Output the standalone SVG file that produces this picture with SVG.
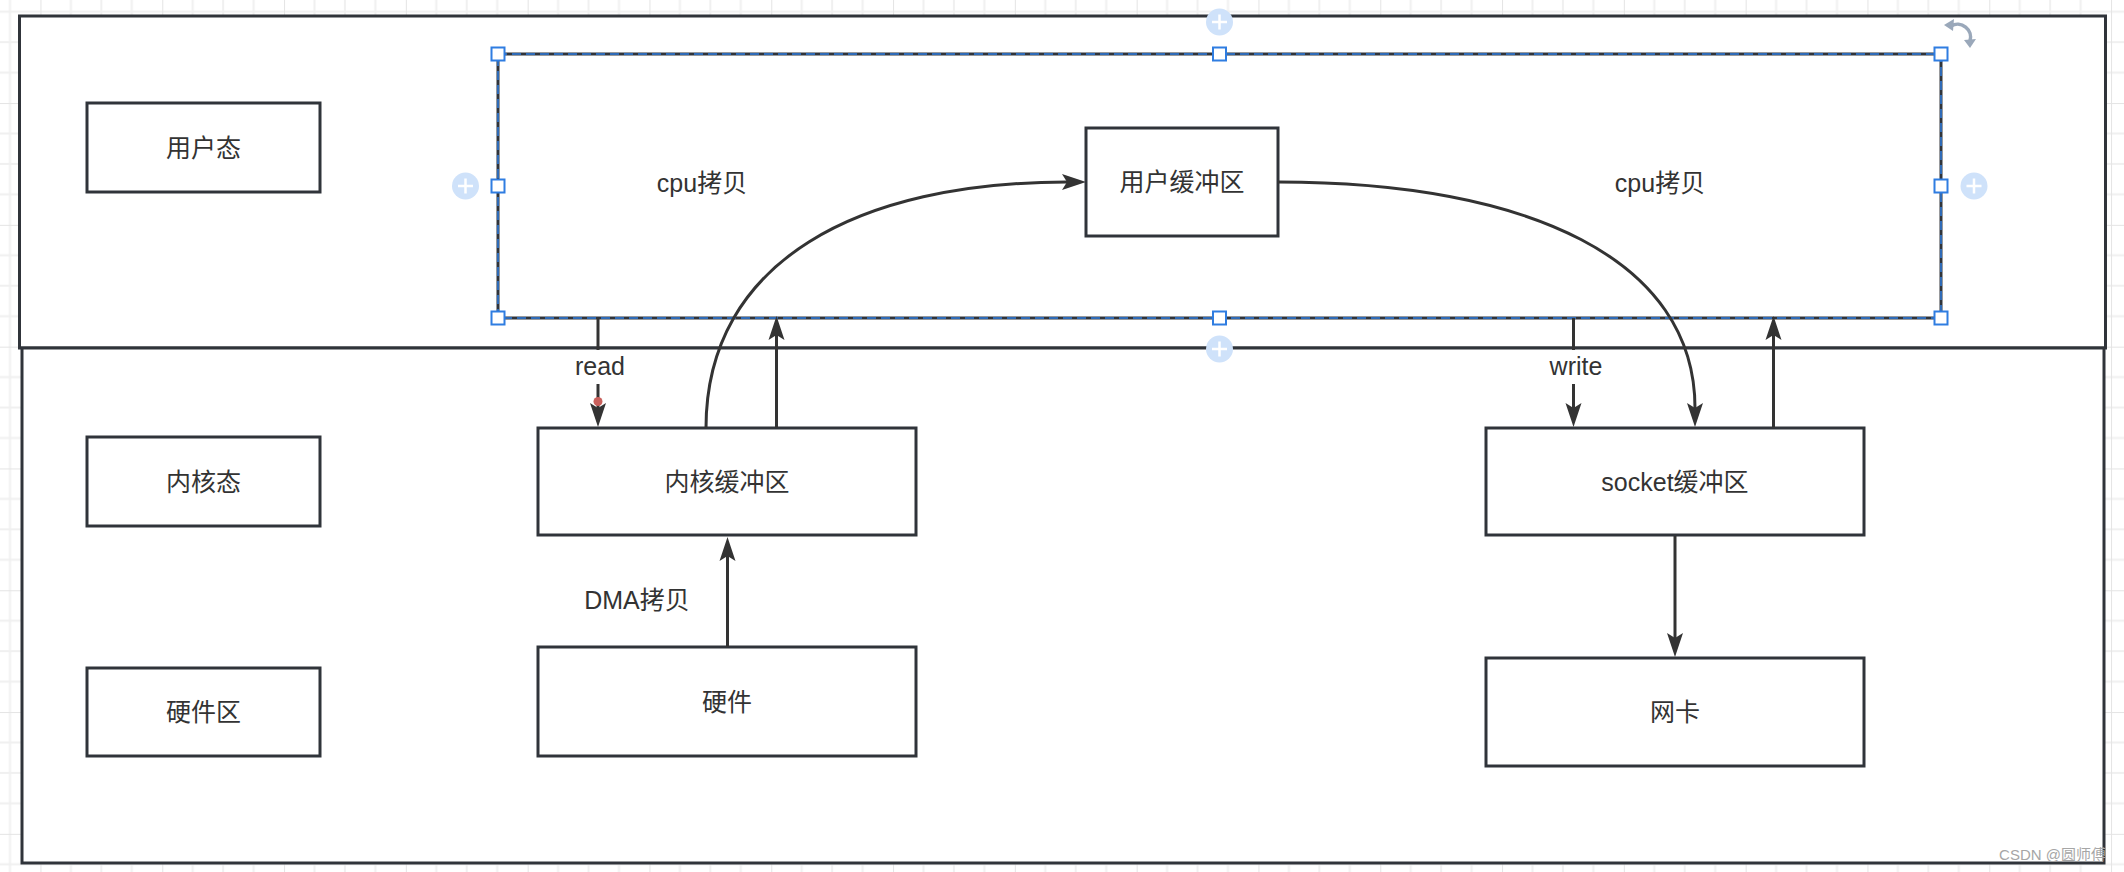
<svg xmlns="http://www.w3.org/2000/svg" width="2124" height="872" viewBox="0 0 2124 872">
<style>
.box{fill:#fff;stroke:#30343a;stroke-width:3}
.outer{fill:#fff;stroke:#30343a;stroke-width:3}
.t{font-family:"Liberation Sans","Noto Sans CJK SC",sans-serif;font-size:25px;fill:#333;text-anchor:middle;dominant-baseline:central}
.ln{fill:none;stroke:#333;stroke-width:3}
.lbl{fill:#fff;stroke:none}
.h{fill:#fff;stroke:#2f7de1;stroke-width:2}
.pc{fill:#cfe2fa}
.pl{stroke:#fff;stroke-width:2.5}
</style>
<defs>
<pattern id="grid" patternUnits="userSpaceOnUse" x="40.45" y="103.05" width="121.8" height="121.8">
<path d="M30.45,0V121.8M60.9,0V121.8M91.35,0V121.8M0,30.45H121.8M0,60.9H121.8M0,91.35H121.8" stroke="#f0f0f0" stroke-width="2" fill="none"/>
<path d="M0,0V121.8M0,0H121.8" stroke="#e4e4e4" stroke-width="2" fill="none"/>
</pattern>
<marker id="arr" markerUnits="userSpaceOnUse" markerWidth="26" markerHeight="18" refX="5" refY="8" orient="auto" overflow="visible">
<path d="M0,0L24,8L0,16L5,8Z" fill="#333"/>
</marker>
</defs>
<rect width="2124" height="872" fill="#fff"/>
<rect width="2124" height="872" fill="url(#grid)"/>

<g id="zone-user"><rect class="outer" x="19.5" y="16" width="2086" height="332"/></g>
<g id="zone-kernel"><rect class="outer" x="22" y="348" width="2082" height="515"/></g>

<g id="cpu-copy-region">
<rect x="498" y="54" width="1443" height="264" fill="none" stroke="#30343a" stroke-width="3"/>
<rect x="498" y="54" width="1443" height="264" fill="none" stroke="#2f7de1" stroke-width="1.5" stroke-dasharray="9 5"/>
</g>

<g id="label-user"><rect class="box" x="87" y="103" width="233" height="89"/><text class="t" x="203.5" y="147.5">用户态</text></g>
<g id="label-kernel"><rect class="box" x="87" y="437" width="233" height="89"/><text class="t" x="203.5" y="481.5">内核态</text></g>
<g id="label-hw"><rect class="box" x="87" y="668" width="233" height="88"/><text class="t" x="203.5" y="712">硬件区</text></g>

<g id="user-buffer"><rect class="box" x="1086" y="128" width="192" height="108"/><text class="t" x="1182" y="182">用户缓冲区</text></g>
<g id="kernel-buffer"><rect class="box" x="538" y="428" width="378" height="107"/><text class="t" x="727" y="481.5">内核缓冲区</text></g>
<g id="hardware"><rect class="box" x="538" y="647" width="378" height="109"/><text class="t" x="727" y="701.5">硬件</text></g>
<g id="socket-buffer"><rect class="box" x="1486" y="428" width="378" height="107"/><text class="t" x="1675" y="481.5">socket缓冲区</text></g>
<g id="nic"><rect class="box" x="1486" y="658" width="378" height="108"/><text class="t" x="1675" y="712">网卡</text></g>

<g id="connectors">
<path class="ln" d="M598,318V408" marker-end="url(#arr)"/>
<path class="ln" d="M706,428C706,260 860,182 1067,182" marker-end="url(#arr)"/>
<path class="ln" d="M776.5,428V335" marker-end="url(#arr)"/>
<path class="ln" d="M727.5,647V556" marker-end="url(#arr)"/>
<path class="ln" d="M1573.5,318V408" marker-end="url(#arr)"/>
<path class="ln" d="M1278,182C1530,182 1695,260 1695,408" marker-end="url(#arr)"/>
<path class="ln" d="M1773.5,428V335" marker-end="url(#arr)"/>
<path class="ln" d="M1675,536V638" marker-end="url(#arr)"/>
<rect class="lbl" x="572" y="350" width="56" height="34"/>
<text class="t" x="600" y="366">read</text>
<rect class="lbl" x="1547" y="350" width="58" height="34"/>
<text class="t" x="1576" y="366">write</text>
<circle cx="598" cy="401.5" r="4.5" fill="#c9605c"/>
</g>

<g id="texts">
<text class="t" x="702" y="183">cpu拷贝</text>
<text class="t" x="1660" y="183">cpu拷贝</text>
<text class="t" x="637" y="600">DMA拷贝</text>
</g>

<g id="selection-ui">
<rect class="h" x="491.5" y="47.5" width="13" height="13"/>
<rect class="h" x="1213" y="47.5" width="13" height="13"/>
<rect class="h" x="1934.5" y="47.5" width="13" height="13"/>
<rect class="h" x="491.5" y="179.5" width="13" height="13"/>
<rect class="h" x="1934.5" y="179.5" width="13" height="13"/>
<rect class="h" x="491.5" y="311.5" width="13" height="13"/>
<rect class="h" x="1213" y="311.5" width="13" height="13"/>
<rect class="h" x="1934.5" y="311.5" width="13" height="13"/>
<g><circle class="pc" cx="1219.5" cy="22" r="13.5"/><path class="pl" d="M1212,22H1227M1219.5,14.5V29.5"/></g>
<g><circle class="pc" cx="465.5" cy="186" r="13.5"/><path class="pl" d="M458,186H473M465.5,178.5V193.5"/></g>
<g><circle class="pc" cx="1974" cy="186" r="13.5"/><path class="pl" d="M1966.5,186H1981.5M1974,178.5V193.5"/></g>
<g><circle class="pc" cx="1219.5" cy="349" r="13.5"/><path class="pl" d="M1212,349H1227M1219.5,341.5V356.5"/></g>
<g>
<path d="M1951,26A13,13 0 0 1 1970,41" fill="none" stroke="#9aa8ba" stroke-width="3.5"/>
<path d="M1944,25L1954,19L1953,31Z" fill="#9aa8ba"/>
<path d="M1964,40L1976,39L1970,48Z" fill="#9aa8ba"/>
</g>
</g>

<text x="2106" y="860" font-family="Liberation Sans,Noto Sans CJK SC,sans-serif" font-size="15" fill="#a6a6a6" text-anchor="end">CSDN @圆师傅</text>
</svg>
